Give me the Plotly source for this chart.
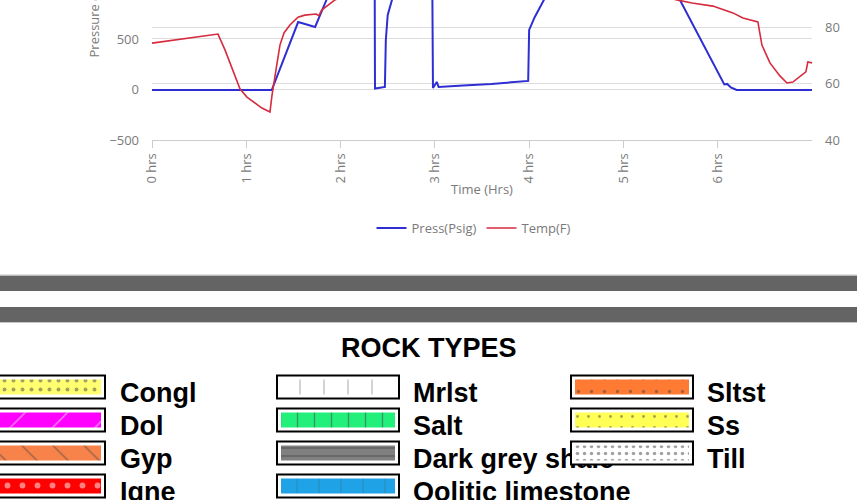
import plotly.graph_objects as go

# Zaman / basinç / sicaklik verileri
press_hrs = [0.0, 0.5, 1.0, 1.27, 1.55, 1.73, 1.85, 2.0, 2.2, 2.36, 2.365, 2.46, 2.47,
             2.48, 2.50, 2.545, 2.7, 2.97, 2.98, 3.02, 3.04, 3.3, 3.6, 3.99, 4.0, 4.06,
             4.11, 4.25, 4.5, 5.0, 5.4, 6.055, 6.07, 6.1, 6.14, 6.2, 6.6, 7.0]
press_psig = [-5, -5, -5, -5, 668, 619, 886, 1250, 1600, 1700, 10, 20, 25,
              490, 738, 886, 1400, 1450, 15, 75, 25, 40, 55, 85, 590, 718,
              807, 1050, 1250, 1300, 1240, 74, 50, 55, 20, -5, -5, -5]

temp_hrs = [0.0, 0.70, 0.774, 0.848, 0.933, 1.007, 1.071, 1.166, 1.251, 1.273, 1.315,
            1.357, 1.40, 1.463, 1.548, 1.62, 1.74, 1.77, 1.80, 1.94, 2.3, 3.0, 4.0,
            5.0, 5.567, 5.727, 5.949, 6.161, 6.267, 6.426, 6.469, 6.554, 6.66, 6.734,
            6.797, 6.935, 6.956, 7.0]
temp_f = [74.3, 77.5, 71.9, 65.5, 58.1, 55.2, 53.5, 51.3, 49.9, 55.9, 64.8,
          73.6, 77.9, 80.7, 83.5, 84.2, 84.6, 84.0, 86.0, 89.6, 94, 96, 96,
          94, 89.6, 88.5, 87.4, 85.0, 83.2, 81.8, 73.6, 67.3, 62.7, 60.2,
          60.5, 64.1, 67.6, 67.3]

hour_ticks = [0, 1, 2, 3, 4, 5, 6]
hour_labels = ["0 hrs", "1 hrs", "2 hrs", "3 hrs", "4 hrs", "5 hrs", "6 hrs"]

# Kaya tipleri lejandi (sutun sutun)
rock_names = ["Congl", "Dol", "Gyp", "Igne",
              "Mrlst", "Salt", "Dark grey shale", "Oolitic limestone",
              "Sltst", "Ss", "Till"]
rock_colors = ["#ffff70", "#ff00ff", "#f8834a", "#ff0000",
               "#ffffff", "#22f07a", "#808080", "#1fa2e6",
               "#ff7a33", "#ffff55", "#ffffff"]
rock_patterns = [".", "/", "\\", ".",
                 "|", "|", "-", "+",
                 ".", ".", "."]
pattern_sizes = [9, 30, 22, 15, 24, 17, 8, 22, 13, 11, 7]
pattern_solid = [0.15, 0.05, 0.07, 0.12, 0.04, 0.08, 0.2, 0.05, 0.05, 0.05, 0.2]

PRESS_COLOR = "#2e2ed2"
TEMP_COLOR = "#d62a3e"
GRID = "#dddddd"
TXT = "#7a7a7a"

W, H = 857, 500

# yerlesim (piksel)
col_box_x = [-17, 277, 571]
col_lbl_x = [120, 413, 707]
row_y = [387, 420, 453, 486]
BOX_W, BOX_H, INSET = 122, 23, 4

box_x, box_y, lbl_x, lbl_y = [], [], [], []
for i in range(len(rock_names)):
    c, r = divmod(i, 4)
    box_x.append(col_box_x[c])
    box_y.append(row_y[r])
    lbl_x.append(col_lbl_x[c])
    lbl_y.append(row_y[r] + 8)

fig = go.Figure()

fig.add_trace(go.Scatter(
    x=press_hrs, y=press_psig, name="Press(Psig)", mode="lines",
    line=dict(color=PRESS_COLOR, width=2), xaxis="x", yaxis="y"
))
fig.add_trace(go.Scatter(
    x=temp_hrs, y=temp_f, name="Temp(F)", mode="lines",
    line=dict(color=TEMP_COLOR, width=1.6), xaxis="x", yaxis="y2"
))

# kaya isimleri (kutularin altinda kalacak)
fig.add_trace(go.Scatter(
    x=lbl_x, y=lbl_y, text=rock_names, mode="text", textposition="middle right",
    textfont=dict(family="Liberation Sans, Arial", size=27, color="black", weight="bold"),
    xaxis="x2", yaxis="y3", showlegend=False, hoverinfo="skip"
))
# dis kutu
fig.add_trace(go.Bar(
    orientation="h", y=box_y, x=[BOX_W] * len(box_x), base=box_x, width=BOX_H,
    marker=dict(color="white", line=dict(color="black", width=2)),
    xaxis="x3", yaxis="y4", showlegend=False, hoverinfo="skip"
))
# desenli ic kutu
fig.add_trace(go.Bar(
    orientation="h", y=box_y, x=[BOX_W - 2 * INSET] * len(box_x),
    base=[b + INSET for b in box_x], width=BOX_H - 2 * INSET,
    marker=dict(
        color=rock_colors, line=dict(width=0),
        pattern=dict(shape=rock_patterns, fgcolor="black",
                     size=pattern_sizes, solidity=pattern_solid, fillmode="overlay")
    ),
    xaxis="x3", yaxis="y4", showlegend=False, hoverinfo="skip"
))

axis_font = dict(family="Open Sans", size=13, color=TXT)
hidden = dict(visible=False, automargin=False, showgrid=False, zeroline=False)

fig.update_layout(
    width=W, height=H, autosize=False,
    margin=dict(l=0, r=0, t=0, b=0, pad=0, autoexpand=False),
    paper_bgcolor="white", plot_bgcolor="white",
    barmode="overlay",
    font=dict(family="Open Sans", color=TXT),
    showlegend=True,
    legend=dict(orientation="h", x=474 / W, xanchor="center", y=1 - 228 / H, yanchor="middle",
                font=dict(family="Open Sans", size=13, color=TXT), bgcolor="rgba(0,0,0,0)",
                itemwidth=30),
    xaxis=dict(domain=[152 / W, 812 / W], range=[0, 7], tickvals=hour_ticks, ticktext=hour_labels,
               tickangle=-90, showgrid=False, zeroline=False, showline=True, linecolor="#cccccc",
               ticks="outside", ticklen=7, tickcolor="#cccccc", tickfont=axis_font, anchor="y",
               automargin=False),
    yaxis=dict(domain=[1 - 140 / H, 1], range=[-500, 886], tickvals=[-500, 0, 500, 1000],
               showgrid=True, gridcolor=GRID, zeroline=False, tickfont=axis_font,
               ticklabelstandoff=12, anchor="x", automargin=False),
    yaxis2=dict(overlaying="y", side="right", range=[40, 89.56], tickvals=[40, 60, 80],
                showgrid=True, gridcolor=GRID, zeroline=False, tickfont=axis_font,
                ticklabelstandoff=12, anchor="x", automargin=False),
    xaxis2=dict(domain=[0, 1], range=[0, W], anchor="y3", **hidden),
    yaxis3=dict(domain=[0, 1 - 268 / H], range=[H, 268], anchor="x2", **hidden),
    xaxis3=dict(overlaying="x2", range=[0, W], anchor="y4", **hidden),
    yaxis4=dict(overlaying="y3", range=[H, 268], anchor="x3", **hidden),
)

# eksen basliklari
fig.add_annotation(text="Time (Hrs)", xref="paper", yref="paper", x=482 / W, y=1 - 189 / H,
                   showarrow=False, xanchor="center", yanchor="middle",
                   font=dict(family="Open Sans", size=13, color=TXT))
fig.add_annotation(text="Pressure (Psig)", xref="paper", yref="paper", x=93 / W, y=1 - 60 / H,
                   showarrow=False, textangle=-90, xanchor="center", yanchor="bottom",
                   font=dict(family="Open Sans", size=13, color=TXT))

# ayirici gri seritler
for y0, y1 in [(275.5, 291), (307, 322.5)]:
    fig.add_shape(type="rect", xref="paper", yref="paper", x0=0, x1=1,
                  y0=1 - y1 / H, y1=1 - y0 / H, fillcolor="#646464", line=dict(width=0))
for yl in [275, 322.5]:
    fig.add_shape(type="line", xref="paper", yref="paper", x0=0, x1=1,
                  y0=1 - yl / H, y1=1 - yl / H, line=dict(color="#c4c4c4", width=1))

fig.add_annotation(text="<b>ROCK TYPES</b>", xref="paper", yref="paper", x=428.5 / W, y=1 - 348 / H,
                   showarrow=False, xanchor="center", yanchor="middle",
                   font=dict(family="Liberation Sans, Arial", size=27, color="black"))

fig.write_html("out.html",
               config={"responsive": False, "displayModeBar": False},
               post_script="document.body.style.margin='0';document.body.style.overflow='hidden';")
